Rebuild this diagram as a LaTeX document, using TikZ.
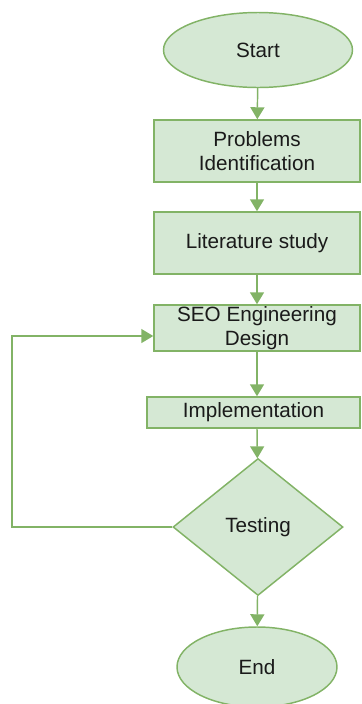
\documentclass[tikz,border=0pt]{standalone}
\usepackage{fontspec}
\setmainfont{Liberation Sans}
\usetikzlibrary{shapes.geometric,arrows.meta}

\definecolor{boxfill}{HTML}{D5E8D4}
\definecolor{boxline}{HTML}{82B366}
\definecolor{boxtext}{HTML}{1A1A1A}

\begin{document}
\begin{tikzpicture}
  [x=0.75pt,y=-0.75pt,
   every node/.style={draw=boxline,fill=boxfill,line width=1.1pt,
     text=boxtext,font=\fontsize{15.5}{17.5}\selectfont,align=center,inner sep=0pt}]

  \tikzstyle{terminal} = [ellipse]
  \tikzstyle{process}  = [rectangle,minimum width=154.5pt]
  \tikzstyle{decision} = [diamond,minimum width=127.5pt,minimum height=102.75pt,aspect=1.24]
  \tikzstyle{flow}     = [color=boxline,line width=1.1pt,-{Triangle[length=9pt,width=10.5pt]}]

  \useasboundingbox (0,0) rectangle (361,704);

  \node[terminal,minimum width=141.75pt,minimum height=56.25pt] (start) at (258,50)  {Start};
  \node[process,minimum height=46.5pt]  (problems) at (257,151)   {Problems\\Identification};
  \node[process,minimum height=46.5pt]  (study)    at (257,243)   {Literature study};
  \node[process,minimum height=34.5pt]  (design)   at (257,328)   {SEO Engineering\\Design};
  \node[rectangle,minimum width=159.75pt,minimum height=23.25pt]
                                        (impl)     at (253.5,412.5) {Implementation};
  \node[decision]                       (testing)  at (258,527)   {Testing};
  \node[terminal,minimum width=120pt,minimum height=60pt] (end) at (257,667) {End};

  \coordinate (back) at (12,527);

  \path[every edge/.style={draw,flow}]
        (start)    edge (problems)
        (problems) edge (study)
        (study)    edge (design)
        (design)   edge (design |- impl.north)
        (design |- impl.south) edge (testing)
        (testing)  edge (end);

  \draw[flow] (testing.west) -- (back) |- (design.west |- 0,336);
\end{tikzpicture}
\end{document}
